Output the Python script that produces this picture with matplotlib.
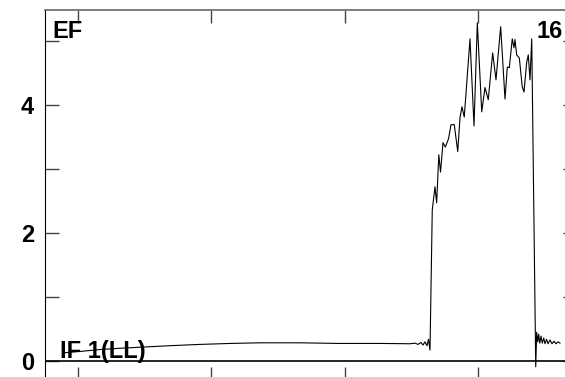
import numpy as np
import matplotlib
matplotlib.use('Agg')
import matplotlib.pyplot as plt

plt.rcParams['font.family'] = ['Liberation Sans', 'DejaVu Sans']

# low, nearly flat part
x_low = [90.25, 101.5, 116.5, 131.5, 150.25, 169, 191.5, 214, 236.5, 266.5, 281.5,
         296.5, 311.5, 326.5, 341.5, 349, 352.75, 355, 357.25, 358.75, 360.25,
         361.75, 362.9, 364]
y_low = [0.13, 0.15, 0.18, 0.20, 0.22, 0.24, 0.26, 0.275, 0.285, 0.285, 0.28,
         0.275, 0.275, 0.275, 0.272, 0.27, 0.28, 0.26, 0.29, 0.25, 0.30,
         0.24, 0.34, 0.17]

# high, noisy part
x_high = [365.7, 367.75, 369.0, 370.6, 371.9, 373.75, 375.5, 377.9, 379.75, 382.2,
          384.8, 386.5, 388, 389.7, 394, 397, 399.5, 402.8, 405.25, 407.7, 411,
          413.5, 417, 420.25, 422, 423.5, 425.7, 427, 427.75, 429, 431, 433.2,
          434.5, 436.5, 437.7, 439, 440.3]
y_high = [2.36, 2.72, 2.47, 3.22, 2.95, 3.41, 3.34, 3.47, 3.69, 3.69,
          3.27, 3.80, 3.97, 3.81, 5.03, 3.67, 5.28, 3.89, 4.27, 4.08, 4.81,
          4.39, 5.22, 4.09, 4.59, 4.58, 5.03, 4.89, 5.02, 4.78, 4.73, 4.28,
          4.20, 4.66, 4.78, 4.39, 5.03]

# tail after the drop
x_tail = [443.3, 444, 444.8, 445.5, 446.3, 447.25, 448.2, 449.3, 450.25, 451.4,
          452.5, 454, 455.5, 457, 458.5, 460, 461.5]
y_tail = [-0.09, 0.45, 0.30, 0.42, 0.28, 0.39, 0.28, 0.36, 0.27, 0.34,
          0.27, 0.33, 0.27, 0.31, 0.27, 0.30, 0.28]

x = x_low + x_high + x_tail
y = y_low + y_high + y_tail

y_ticks = [0, 1, 2, 3, 4, 5]
y_labels = ['0', '', '2', '', '4', '']
x_ticks = [100, 200, 300, 400]

fig = plt.figure(figsize=(5.65, 3.77), dpi=100)
ax = fig.add_axes([45 / 565, -2 / 377, 532 / 565, 369 / 377])

ax.plot(x, y, color='black', lw=0.8)
ax.axhline(0, color='black', lw=1.2)

ax.set_xlim(75.25, 474.25)
ax.set_ylim(-0.28, 5.48)
ax.set_yticks(y_ticks)
ax.set_yticklabels(y_labels)
ax.set_xticks(x_ticks)
ax.set_xticklabels([])

ax.tick_params(axis='y', direction='in', length=10, width=1, color='#444444',
               left=True, right=True, pad=8, labelsize=17)
ax.tick_params(axis='x', direction='in', length=9, width=1, color='#444444',
               top=True, bottom=True)
for lab in ax.get_yticklabels():
    lab.set_fontweight('bold')

ax.spines['left'].set_color('black')
ax.spines['top'].set_color('#666666')
ax.spines['top'].set_linewidth(1.2)

ax.text(0.013, 0.974, 'EF', transform=ax.transAxes, fontsize=17,
        fontweight='bold', ha='left', va='top')
ax.text(0.974, 0.974, '16', transform=ax.transAxes, fontsize=17,
        fontweight='bold', ha='right', va='top')
ax.text(0.028, 0.057, 'IF 1(LL)', transform=ax.transAxes, fontsize=17,
        fontweight='bold', ha='left', va='baseline')

fig.savefig('out.png', dpi=100)
